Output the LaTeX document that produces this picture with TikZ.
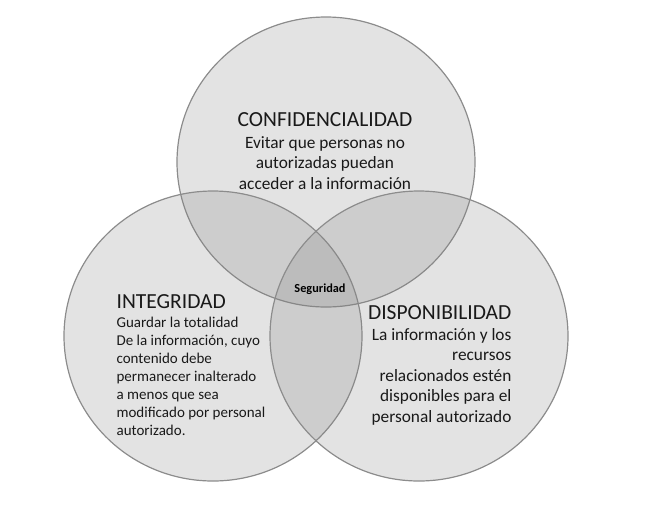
\documentclass[tikz,border=0pt]{standalone}
\usepackage{fontspec}
\setmainfont{Carlito}
\usetikzlibrary{shapes}

\begin{document}
\begin{tikzpicture}[x=1pt,y=-1pt,line width=1.2pt,
		ring/.style={draw=black!45,fill=gray,fill opacity=0.22,shape=ellipse,minimum width=298pt,minimum height=290pt,inner sep=0pt},
		title/.style={font=\fontsize{21.5}{24}\selectfont,text=black!90,inner sep=0pt},
		body/.style={font=\fontsize{17.3}{20.4}\selectfont,text=black!90,inner sep=0pt}]
			\useasboundingbox (0,0) rectangle (672,515);
			\node [ring] (Top) at (326,162) {};
			\node [ring] (Left) at (213,336) {};
			\node [ring] (Right) at (419,336) {};
			\node [title,anchor=base] (Conf) at (325,126) {CONFIDENCIALIDAD};
			\node [body,align=center,anchor=base] (ConfText) at (325,189)
				{Evitar que personas no\\ autorizadas puedan\\ acceder a la información};
			\node [title,anchor=base west] (Integ) at (116,308) {INTEGRIDAD};
			\node [body,align=left,anchor=base west,font=\fontsize{15}{18}\selectfont] (IntegText) at (116,435)
				{Guardar la totalidad\\ De la información, cuyo\\ contenido debe\\ permanecer inalterado\\ a menos que sea\\ modificado por personal\\ autorizado.};
			\node [title,anchor=base east] (Disp) at (512,319) {DISPONIBILIDAD};
			\node [body,align=right,anchor=base east] (DispText) at (512,422)
				{La información y los\\ recursos\\ relacionados estén\\ disponibles para el\\ personal autorizado};
			\node [anchor=base,font=\fontsize{12.3}{14}\selectfont\bfseries,inner sep=0pt] (Seg) at (320,292) {Seguridad};
		\end{tikzpicture}
\end{document}
